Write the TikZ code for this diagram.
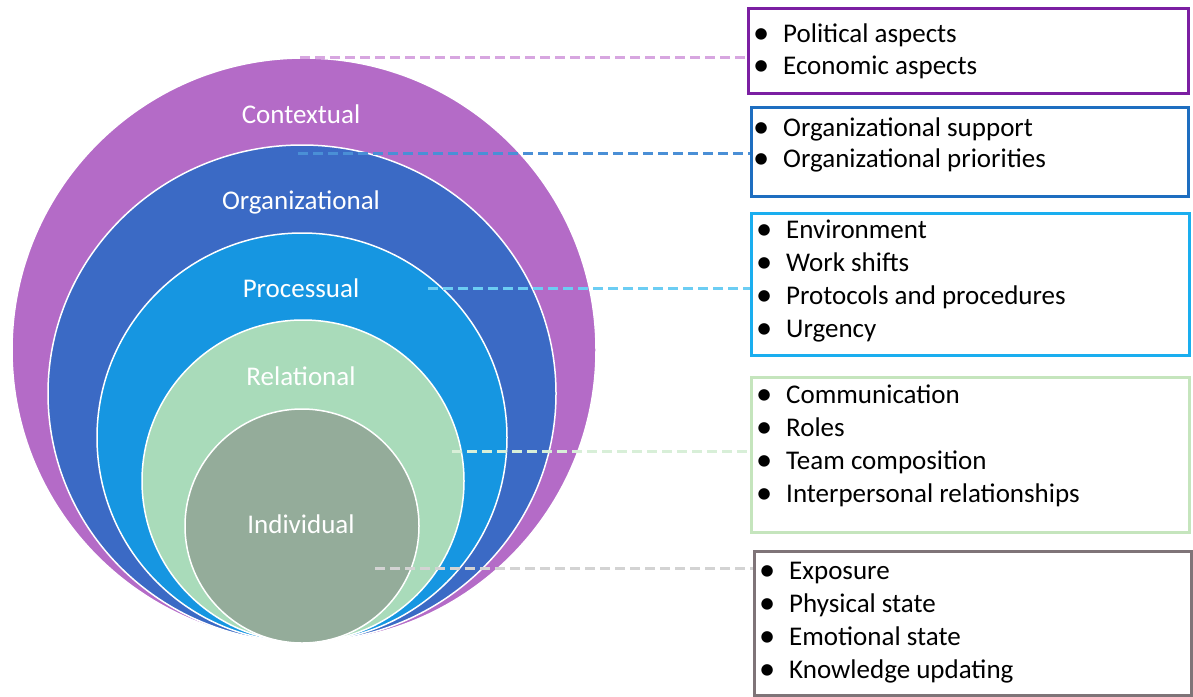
\documentclass[tikz,border=0pt]{standalone}
\usepackage{fontspec}
\setmainfont{Carlito}
\usepackage{tikz}
\usetikzlibrary{shapes.geometric}

% layer fills
\definecolor{ctxfill}{HTML}{B46BC7}
\definecolor{orgfill}{HTML}{3B6AC5}
\definecolor{procfill}{HTML}{1696E1}
\definecolor{relfill}{HTML}{A9DBBA}
\definecolor{indfill}{HTML}{94AC9A}
% frame lines
\definecolor{ctxline}{HTML}{7B1FA2}
\definecolor{orgline}{HTML}{1E6EC0}
\definecolor{procline}{HTML}{1AAEEF}
\definecolor{relline}{HTML}{C5E5BD}
\definecolor{indline}{HTML}{7F7478}
% dashed links
\definecolor{ctxdash}{HTML}{D7A6E0}
\definecolor{orgdash}{HTML}{4A8FD6}
\definecolor{procdash}{HTML}{6CCDF3}
\definecolor{reldash}{HTML}{D8EFD8}
\definecolor{inddash}{HTML}{D3D3D3}

\newcommand{\itembullet}{\llap{\smash{\raisebox{-1.5pt}{\scalebox{1.2}{\textbullet}}}\hspace{14pt}}}

\tikzset{
	layer/.style={
		ellipse,
		draw=white,
		line width=1.5pt,
		inner sep=0pt},
	layer label/.style={
		text=white,
		anchor=base,
		font=\fontsize{27}{30}\selectfont},
	frame/.style={
		draw,
		line width=3pt,
		anchor=north west,
		inner sep=0pt},
	item/.style={
		anchor=base west,
		inner sep=0pt,
		font=\fontsize{27}{33}\selectfont},
	link/.style={
		line width=3pt,
		dash pattern=on 10pt off 5pt}
}

\begin{document}
\begin{tikzpicture}[x=1pt,y=-1pt]
	\useasboundingbox (0,0) rectangle (1193,696);

	% nested layers
	\node[layer, fill=ctxfill, minimum width=584pt, minimum height=584pt] (ctx) at (304,350) {};
	\node[layer, fill=orgfill, minimum width=508pt, minimum height=497pt] (org) at (302,393.5) {};
	\node[layer, fill=procfill, minimum width=410pt, minimum height=409pt] (proc) at (302,437.5) {};
	\node[layer, fill=relfill, minimum width=322pt, minimum height=322pt] (rel) at (303,481) {};
	\node[layer, fill=indfill, minimum width=234pt, minimum height=234pt] (ind) at (302,526) {};

	\node[layer label] (ctx-label) at (301,123) {Contextual};
	\node[layer label] (org-label) at (301,209) {Organizational};
	\node[layer label] (proc-label) at (301,297) {Processual};
	\node[layer label] (rel-label) at (301,385) {Relational};
	\node[layer label] (ind-label) at (301,533) {Individual};

	% frames on the right
	\node[frame, draw=ctxline, minimum width=440pt, minimum height=85pt] (ctx-frame) at (747,7) {};
	\node[frame, draw=orgline, minimum width=437pt, minimum height=89pt] (org-frame) at (750,106) {};
	\node[frame, draw=procline, minimum width=438pt, minimum height=142pt] (proc-frame) at (750,212) {};
	\node[frame, draw=relline, minimum width=438pt, minimum height=155pt] (rel-frame) at (750,376) {};
	\node[frame, draw=indline, minimum width=437pt, minimum height=144pt] (ind-frame) at (753,550) {};

	% bullet lists
	\foreach \t [count=\i from 0] in {Political aspects, Economic aspects}
		\node[item] (ctx-item-\i) at (783,42+32*\i) {\itembullet\t};
	\foreach \t [count=\i from 0] in {Organizational support, Organizational priorities}
		\node[item] (org-item-\i) at (783,136+31*\i) {\itembullet\t};
	\foreach \t [count=\i from 0] in {Environment, Work shifts, Protocols and procedures, Urgency}
		\node[item] (proc-item-\i) at (786,238+33*\i) {\itembullet\t};
	\foreach \t [count=\i from 0] in {Communication, Roles, Team composition, Interpersonal relationships}
		\node[item] (rel-item-\i) at (786,403+33*\i) {\itembullet\t};
	\foreach \t [count=\i from 0] in {Exposure, Physical state, Emotional state, Knowledge updating}
		\node[item] (ind-item-\i) at (789,579+33*\i) {\itembullet\t};

	% dashed links from layers to frames
	\coordinate (ctx-in) at (300,57);
	\coordinate (org-in) at (298,153);
	\coordinate (proc-in) at (428,288);
	\coordinate (rel-in) at (452,451);
	\coordinate (ind-in) at (375,568);
	\draw[link, ctxdash] (ctx-in) -- (ctx-in -| ctx-frame.west);
	\draw[link, orgdash] (org-in) -- (org-in -| org-frame.west);
	\draw[link, procdash] (proc-in) -- (proc-in -| proc-frame.west);
	\draw[link, reldash] (rel-in) -- (rel-in -| rel-frame.west);
	\draw[link, inddash] (ind-in) -- (ind-in -| ind-frame.west);
\end{tikzpicture}
\end{document}
